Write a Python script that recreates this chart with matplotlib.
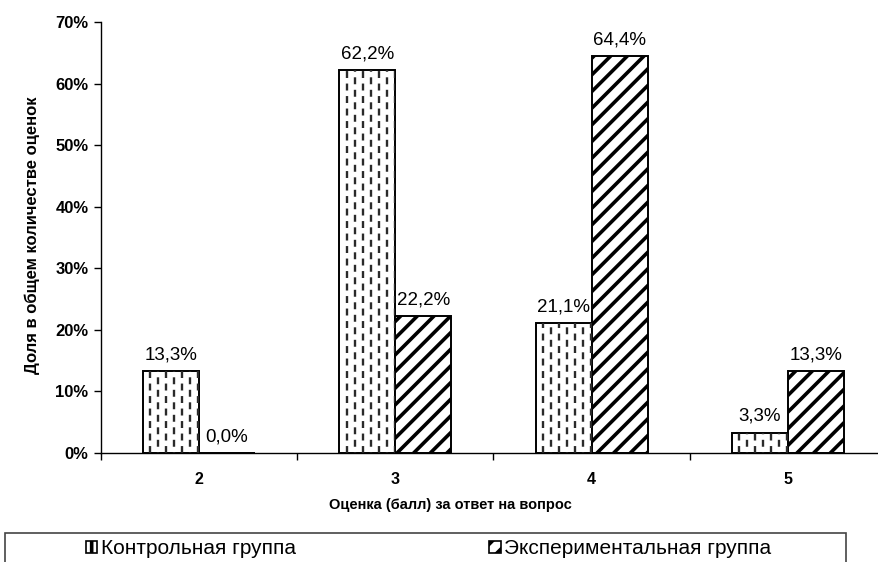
import matplotlib
matplotlib.use("Agg")
import matplotlib.pyplot as plt
from matplotlib.patches import Rectangle, Patch
from matplotlib.ticker import FuncFormatter, FixedLocator
import numpy as np

categories = ["2", "3", "4", "5"]
control = [13.3, 62.2, 21.1, 3.3]
experimental = [0.0, 22.2, 64.4, 13.3]
series_names = ["Контрольная группа", "Экспериментальная группа"]
y_ticks = [0, 10, 20, 30, 40, 50, 60, 70]
x_label = "Оценка (балл) за ответ на вопрос"
y_label = "Доля в общем количестве оценок"

plt.rcParams["font.family"] = ["Liberation Sans", "DejaVu Sans"]
plt.rcParams["hatch.linewidth"] = 2.6
plt.rcParams["lines.scale_dashes"] = False

W, H = 879, 562
fig = plt.figure(figsize=(W / 100, H / 100), dpi=100)
ax = fig.add_axes([101 / W, (H - 453) / H, 785 / W, 431 / H])

x = np.arange(len(categories))
bw = 0.285
bars_c = ax.bar(x - bw / 2, control, bw, facecolor="white", edgecolor="black", linewidth=1.4, zorder=2)
bars_e = ax.bar(x + bw / 2, experimental, bw, facecolor="white", edgecolor="black", linewidth=1.4,
                hatch="//", zorder=2)

# dashed vertical pattern inside control bars
for b in bars_c:
    x0, w, h = b.get_x(), b.get_width(), b.get_height()
    n = 7
    for k in range(1, n + 1):
        xx = x0 + w * (k - 0.1) / n
        off = 0 if k % 2 else 4.5
        ln, = ax.plot([xx, xx], [0, h], color="#2a2a2a", lw=1.7,
                      linestyle=(off, (5.0, 4.0)), zorder=2.5)
        ln.set_clip_path(b)

for bars, vals in ((bars_c, control), (bars_e, experimental)):
    for b, v in zip(bars, vals):
        ax.annotate(f"{v:.1f}%".replace(".", ","),
                    (b.get_x() + b.get_width() / 2, v),
                    xytext=(0, 8.5), textcoords="offset points",
                    ha="center", va="baseline", fontsize=13.5)

ax.set_xlim(-0.5, len(categories) - 0.5)
ax.set_ylim(0, 70)
ax.set_yticks(y_ticks)
ax.yaxis.set_major_formatter(FuncFormatter(lambda v, p: f"{int(round(v))}%"))
ax.set_xticks(x)
ax.set_xticklabels(categories)
ax.xaxis.set_minor_locator(FixedLocator(np.arange(len(categories) + 1) - 0.5))
ax.tick_params(axis="x", which="major", length=0, pad=14, labelsize=11.5)
ax.tick_params(axis="x", which="minor", length=5, direction="out", width=1)
ax.tick_params(axis="y", length=5, direction="out", width=1, pad=4, labelsize=12)
for lbl in ax.get_xticklabels() + ax.get_yticklabels():
    lbl.set_fontweight("bold")

for s in ("top", "right"):
    ax.spines[s].set_visible(False)
for s in ("left", "bottom"):
    ax.spines[s].set_linewidth(1.0)

fig.text(450 / W, 1 - 505 / H, x_label, ha="center", va="center", fontsize=10.5, fontweight="bold")
fig.text(32 / W, 1 - 235 / H, y_label, ha="center", va="center", rotation=90,
         fontsize=12, fontweight="bold")

# legend box
fig.patches.append(Rectangle((5 / W, -0.05), (846 - 5) / W, 0.05 + (H - 533) / H,
                             transform=fig.transFigure, facecolor="white",
                             edgecolor="#444444", linewidth=1.2))
handles = [Patch(facecolor="white", edgecolor="black", hatch="|", linewidth=1.2),
           Patch(facecolor="white", edgecolor="black", hatch="//", linewidth=1.2)]
fig.legend(handles, series_names, ncol=2, frameon=False, loc="center left",
           bbox_to_anchor=(86 / W, 1 - 549 / H), fontsize=15,
           handlelength=0.55, handleheight=0.55, handletextpad=0.15,
           columnspacing=9.3, borderpad=0, borderaxespad=0)

fig.savefig("out.png", dpi=100)
